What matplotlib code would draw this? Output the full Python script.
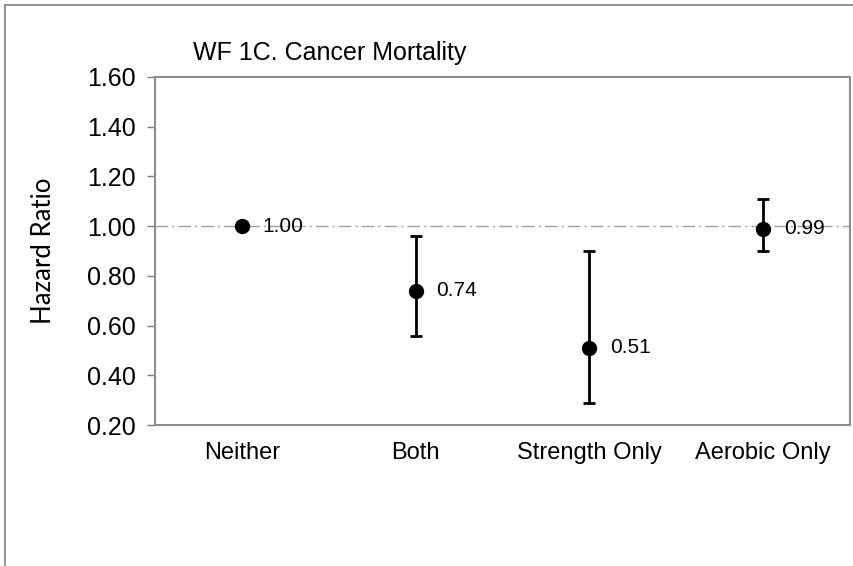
import matplotlib
matplotlib.use("Agg")
import matplotlib.pyplot as plt
from matplotlib.lines import Line2D

categories = ["Neither", "Both", "Strength Only", "Aerobic Only"]
hazard = [1.00, 0.74, 0.51, 0.99]
ci_low = [1.00, 0.56, 0.29, 0.90]
ci_high = [1.00, 0.96, 0.90, 1.11]
labels = ["1.00", "0.74", "0.51", "0.99"]
yticks = [0.20, 0.40, 0.60, 0.80, 1.00, 1.20, 1.40, 1.60]

plt.rcParams["font.family"] = ["Liberation Sans", "DejaVu Sans"]

fig = plt.figure(figsize=(8.54, 5.66), dpi=100)
ax = fig.add_axes([0.1815, 0.249, 0.8138, 0.615])

x = list(range(len(categories)))
err_low = [h - lo for h, lo in zip(hazard, ci_low)]
err_high = [hi - h for h, hi in zip(hazard, ci_high)]

ax.axhline(1.0, color="#a0a0a0", lw=1.0, ls=(0, (9, 3, 1.5, 3)), zorder=1)
ax.errorbar(x, hazard, yerr=[err_low, err_high], fmt="o", color="black",
            markersize=10, elinewidth=2, capsize=4, capthick=2, zorder=3)

for xi, h, lab in zip(x, hazard, labels):
    ax.annotate(lab, (xi, h), xytext=(15, 0), textcoords="offset points",
                va="center", ha="left", fontsize=15)

ax.set_xlim(-0.5, 3.5)
ax.set_ylim(0.2, 1.6)
ax.set_yticks(yticks)
ax.set_yticklabels([f"{v:.2f}" for v in yticks], fontsize=18)
ax.set_xticks(x)
ax.set_xticklabels(categories, fontsize=17)
ax.tick_params(axis="x", length=0, pad=12)
ax.tick_params(axis="y", length=6, color="#808080", width=1, pad=8)

for side in ax.spines.values():
    side.set_color("#8c8c8c")
    side.set_linewidth(1.5)

ax.set_ylabel("Hazard Ratio", fontsize=18.5, family=["Lato", "DejaVu Sans"],
              labelpad=22)
ax.set_title("WF 1C. Cancer Mortality", fontsize=18, loc="left", x=0.055, pad=12)

# outer chart border (only left and top edges show)
fig.add_artist(Line2D([0.006, 0.006], [0.0, 0.991], color="#808080", lw=1.2,
                      transform=fig.transFigure))
fig.add_artist(Line2D([0.006, 1.0], [0.991, 0.991], color="#808080", lw=1.2,
                      transform=fig.transFigure))

fig.savefig("out.png", dpi=100)
